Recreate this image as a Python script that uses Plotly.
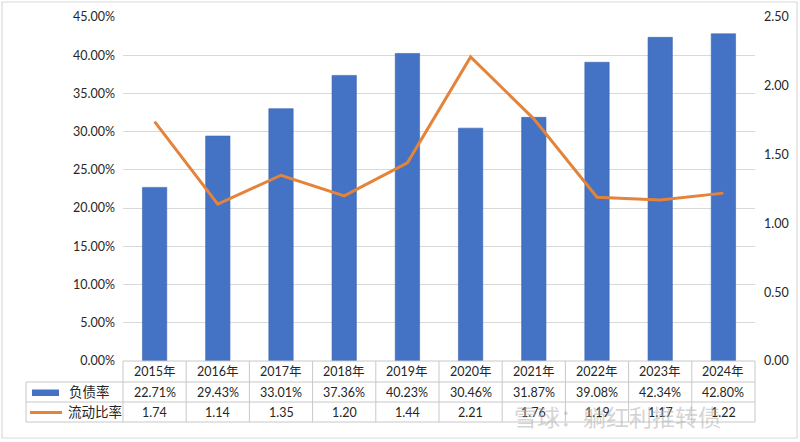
import plotly.graph_objects as go

years = ["2015年", "2016年", "2017年", "2018年", "2019年", "2020年", "2021年", "2022年", "2023年", "2024年"]
debt_ratio = [22.71, 29.43, 33.01, 37.36, 40.23, 30.46, 31.87, 39.08, 42.34, 42.80]  # %
current_ratio = [1.74, 1.14, 1.35, 1.20, 1.44, 2.21, 1.76, 1.19, 1.17, 1.22]
series_names = ["负债率", "流动比率"]

W, H = 800, 442
L, R, T, B = 123, 755, 17, 361   # plot area in pixels

def px(x):
    return (x - L) / (R - L)

def py(y):
    return (B - y) / (B - T)

BLUE = "#4472C4"
ORANGE = "#E4833A"
GRID = "#D9D9D9"
TLINE = "#C8C8C8"
TXT = "#262626"
FONT = "Lato, Noto Sans CJK SC, sans-serif"

fig = go.Figure()
fig.add_trace(go.Bar(
    x=years, y=[v / 100 for v in debt_ratio], name=series_names[0],
    marker=dict(color=BLUE, line=dict(color="#3A64B0", width=0.6)),
    width=0.385, yaxis="y",
))
fig.add_trace(go.Scatter(
    x=years, y=current_ratio, name=series_names[1], mode="lines",
    line=dict(color=ORANGE, width=3), yaxis="y2",
))

shapes = []
# outer border
shapes.append(dict(type="rect", xref="paper", yref="paper",
                   x0=px(2), x1=px(797), y0=py(2), y1=py(438),
                   line=dict(color=GRID, width=1.2), fillcolor="rgba(0,0,0,0)", layer="below"))

# table geometry (pixels)
rows = [361, 382, 402, 422]
tleft = 26
n = len(years)
shapes.append(dict(type="line", xref="paper", yref="paper", x0=0, x1=1, y0=py(rows[0]), y1=py(rows[0]),
                   line=dict(color=TLINE, width=1)))
for r in rows[1:]:
    shapes.append(dict(type="line", xref="paper", yref="paper", x0=px(tleft), x1=1, y0=py(r), y1=py(r),
                       line=dict(color=TLINE, width=1)))
for i in range(n + 1):
    shapes.append(dict(type="line", xref="paper", yref="paper", x0=i / n, x1=i / n,
                       y0=py(rows[0]), y1=py(rows[3]), line=dict(color=TLINE, width=1)))
shapes.append(dict(type="line", xref="paper", yref="paper", x0=px(tleft), x1=px(tleft),
                   y0=py(rows[1]), y1=py(rows[3]), line=dict(color=TLINE, width=1)))
# legend keys
shapes.append(dict(type="rect", xref="paper", yref="paper", x0=px(32), x1=px(59), y0=py(396), y1=py(389.5),
                   fillcolor=BLUE, line=dict(width=0)))
shapes.append(dict(type="line", xref="paper", yref="paper", x0=px(30), x1=px(62), y0=py(412.5), y1=py(412.5),
                   line=dict(color=ORANGE, width=3)))

ann = []
def cell_y(i):
    return py((rows[i] + rows[i + 1]) / 2)

for i, yr in enumerate(years):
    xc = (i + 0.5) / n
    for row, txt in ((0, yr), (1, f"{debt_ratio[i]:.2f}%"), (2, f"{current_ratio[i]:.2f}")):
        ann.append(dict(x=xc, y=cell_y(row), xref="paper", yref="paper", text=txt, showarrow=False,
                        xanchor="center", yanchor="middle",
                        font=dict(size=12.5, color=TXT, family=FONT)))
ann.append(dict(x=px(67), y=cell_y(1), xref="paper", yref="paper", text=series_names[0], showarrow=False,
                xanchor="left", yanchor="middle", font=dict(size=13.5, color=TXT, family=FONT)))
ann.append(dict(x=px(66), y=cell_y(2), xref="paper", yref="paper", text=series_names[1], showarrow=False,
                xanchor="left", yanchor="middle", font=dict(size=13.5, color=TXT, family=FONT)))
# watermark
ann.append(dict(x=px(512), y=py(417), xref="paper", yref="paper", text="雪球：躺红利推转债", showarrow=False,
                xanchor="left", yanchor="middle",
                font=dict(size=23, color="rgba(170,170,170,0.5)", family=FONT)))

fig.update_layout(
    width=W, height=H,
    margin=dict(l=L, r=W - R, t=T, b=H - B, pad=0, autoexpand=False),
    paper_bgcolor="white", plot_bgcolor="white",
    showlegend=False, bargap=0.6,
    font=dict(family=FONT, color=TXT, size=12.5),
    xaxis=dict(type="category", showticklabels=False, showgrid=False, showline=False, zeroline=False,
               range=[-0.5, n - 0.5], fixedrange=True),
    yaxis=dict(range=[0, 0.45], dtick=0.05, tick0=0, tickformat=".2%", showgrid=True, gridcolor=GRID,
               gridwidth=1, zeroline=False, showline=False, ticks="", ticklabelstandoff=7,
               tickfont=dict(size=12.5, color=TXT)),
    yaxis2=dict(range=[0, 2.5], dtick=0.5, tick0=0, tickformat=".2f", overlaying="y", side="right",
                showgrid=False, zeroline=False, showline=False, ticks="", ticklabelstandoff=8,
                tickfont=dict(size=12.5, color=TXT)),
    shapes=shapes, annotations=ann,
)

fig.write_html("out.html", config={"displayModeBar": False})
with open("out.html", "r", encoding="utf-8") as f:
    html = f.read()
html = html.replace("<head>", "<head><style>html,body{margin:0;padding:0;overflow:hidden;}</style>", 1)
with open("out.html", "w", encoding="utf-8") as f:
    f.write(html)
